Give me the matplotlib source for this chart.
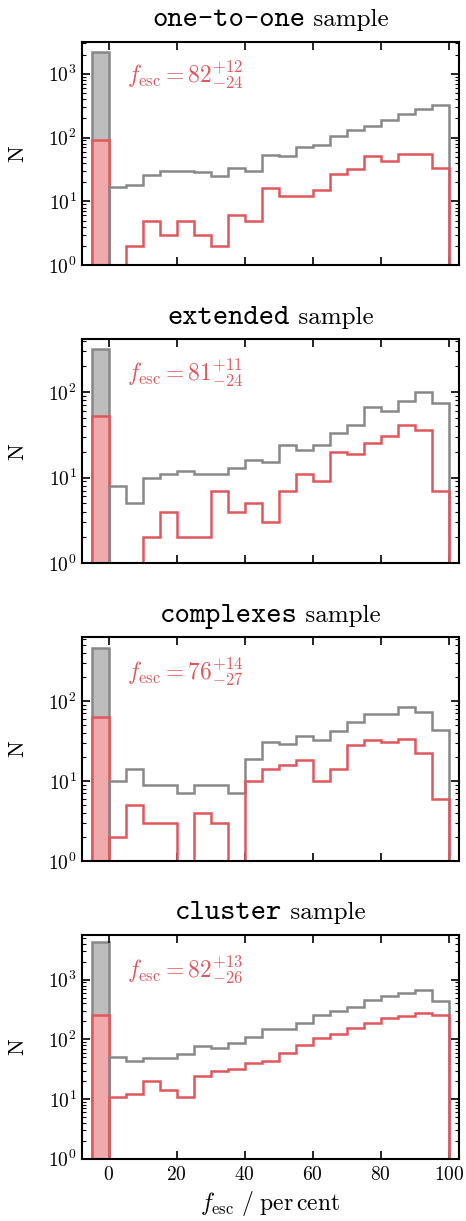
'''
Escape fraction histograms for the four samples.
'''

import numpy as np
import matplotlib
matplotlib.use('Agg')
import matplotlib.pyplot as plt

plt.rcParams['font.family'] = 'cmr10'
plt.rcParams['mathtext.fontset'] = 'cm'
plt.rcParams['axes.unicode_minus'] = False
plt.rcParams['axes.formatter.use_mathtext'] = True

# bin edges: one bin for f_esc = 0 (drawn from -5 to 0), then 5 per cent bins
edges = np.arange(-5, 101, 5)

samples = ['one-to-one', 'extended', 'complexes', 'cluster']
fesc_text = [r'$f_{\rm esc} = 82^{+12}_{-24}$',
             r'$f_{\rm esc} = 81^{+11}_{-24}$',
             r'$f_{\rm esc} = 76^{+14}_{-27}$',
             r'$f_{\rm esc} = 82^{+13}_{-26}$']

# all regions (grey), first value is the f_esc = 0 bin
all_one = [2230, 17, 18, 26, 30, 30, 29, 25, 33, 30, 53, 51, 72, 76, 107, 130, 150, 186, 233, 280, 323]
all_ext = [316, 8, 5, 10, 11, 12, 11, 11, 13, 16, 15, 24, 21, 24, 33, 41, 67, 60, 79, 99, 75]
all_com = [459, 10, 14, 9, 9, 7, 9, 9, 7, 19, 31, 29, 36, 32, 42, 55, 68, 68, 85, 73, 43]
all_clu = [4340, 50, 44, 48, 48, 57, 78, 72, 86, 110, 147, 152, 185, 258, 294, 347, 450, 538, 597, 661, 432]

# selected regions (red)
sel_one = [93, 1, 2, 5, 3, 5, 3, 2, 6, 5, 16, 12, 12, 15, 27, 32, 52, 43, 56, 55, 33]
sel_ext = [53, 1, 0, 2, 4, 2, 2, 7, 4, 5, 3, 7, 11, 9, 20, 19, 25, 31, 41, 36, 7]
sel_com = [62, 2, 5, 3, 3, 1, 4, 3, 1, 10, 14, 16, 18, 10, 14, 28, 32, 31, 33, 22, 6]
sel_clu = [261, 11, 12, 20, 14, 11, 24, 30, 32, 41, 43, 60, 81, 107, 121, 156, 192, 230, 249, 275, 252]

all_counts = [all_one, all_ext, all_com, all_clu]
sel_counts = [sel_one, sel_ext, sel_com, sel_clu]
ytops = [3200, 413, 624, 5600]

grey_line = '#888888'
grey_fill = '#bdbdbd'
red_line = '#e0575c'
red_fill = '#f0aaab'
lw = 1.8

fig, axes = plt.subplots(4, 1, figsize=(4.66, 12.21), sharex=True)
fig.subplots_adjust(left=0.175, right=0.985, top=0.966, bottom=0.051, hspace=0.332)

for i, ax in enumerate(axes):
    a = np.array(all_counts[i], dtype=float)
    s = np.array(sel_counts[i], dtype=float)

    # f_esc = 0 bin as outlined, filled bars
    ax.bar(edges[0], a[0], width=5, align='edge', bottom=0.1,
           facecolor=grey_fill, edgecolor=grey_line, lw=lw, zorder=1)
    ax.bar(edges[0], s[0] - 0.1, width=5, align='edge', bottom=0.1,
           facecolor=red_fill, edgecolor=red_line, lw=lw, zorder=2)

    # the rest as step histograms
    ax.stairs(a[1:], edges[1:], baseline=0.1, color=grey_line, lw=lw, zorder=3)
    ax.stairs(s[1:], edges[1:], baseline=0.1, color=red_line, lw=lw, zorder=4)

    ax.set_yscale('log')
    ax.set_ylim(1, ytops[i])
    ax.set_xlim(-8, 103)
    ax.set_xticks([0, 20, 40, 60, 80, 100])
    ax.set_ylabel('N', fontsize=16)
    ax.yaxis.set_label_coords(-0.145, 0.5)
    ax.tick_params(which='both', direction='in', top=True, right=True, labelsize=14)
    ax.tick_params(which='major', length=5.5, width=1.2)
    ax.tick_params(which='minor', length=3, width=0.8)
    ax.tick_params(axis='x', which='minor', top=False, bottom=False)
    ax.tick_params(axis='x', pad=5)
    for sp in ax.spines.values():
        sp.set_linewidth(1.5)
        sp.set_zorder(5)

    ax.text(0.12, 0.815, fesc_text[i], color=red_line, fontsize=17,
            transform=ax.transAxes, va='baseline')

    # title: sample name in typewriter, 'sample' in roman
    t1 = ax.text(0.5, 1.07, samples[i], family='cmtt10', fontsize=21,
                 transform=ax.transAxes, ha='left', va='baseline')
    t2 = ax.text(0.5, 1.07, ' sample', fontsize=18,
                 transform=ax.transAxes, ha='left', va='baseline')
    ax._title_parts = (t1, t2)

axes[-1].set_xlabel(r'$f_{\rm esc}\ /\ {\rm per\,cent}$', fontsize=17)

# centre the two-font titles
fig.canvas.draw()
for ax in axes:
    t1, t2 = ax._title_parts
    axw = ax.get_window_extent().width
    w1 = t1.get_window_extent().width / axw
    w2 = t2.get_window_extent().width / axw
    x0 = 0.5 - (w1 + w2) / 2
    t1.set_x(x0)
    t2.set_x(x0 + w1)

plt.savefig('out.png', dpi=100)
